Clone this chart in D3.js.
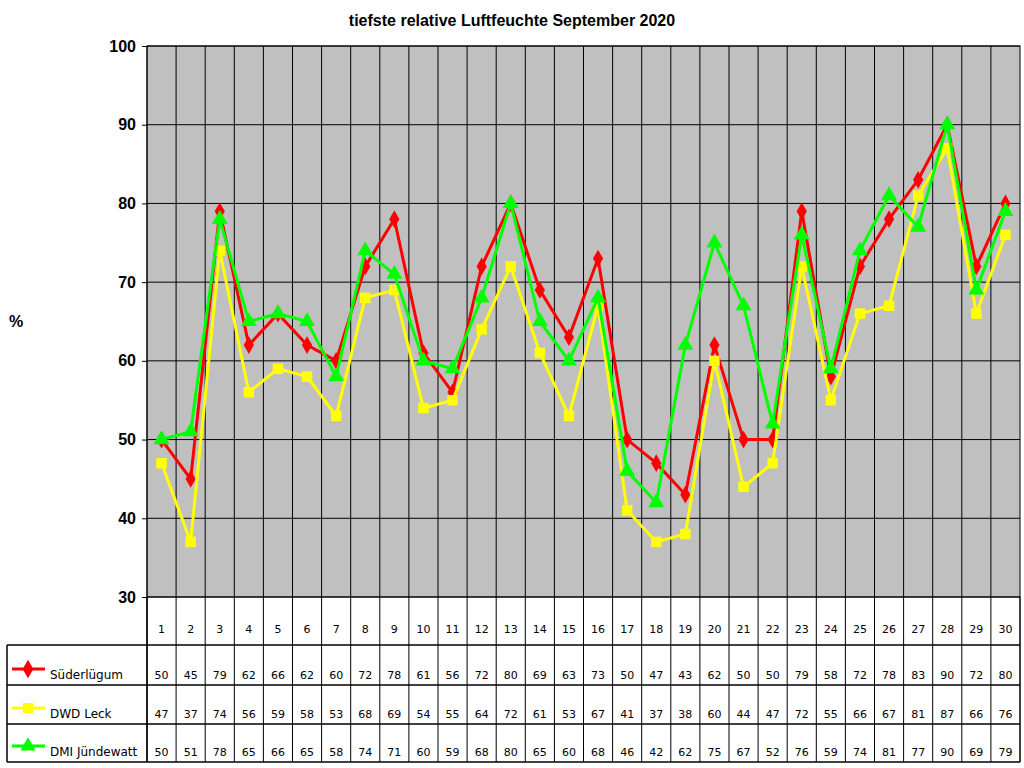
<!DOCTYPE html>
<html><head><meta charset="utf-8">
<script src="https://cdn.jsdelivr.net/npm/d3@7"></script>
<style>body{margin:0;background:#fff}svg{font-family:Arial,"Liberation Sans",sans-serif}</style>
</head><body><div id="chart"></div>
<script>
const days = d3.range(1, 31);
const suederluegum = [50,45,79,62,66,62,60,72,78,61,56,72,80,69,63,73,50,47,43,62,50,50,79,58,72,78,83,90,72,80];
const dwdLeck = [47,37,74,56,59,58,53,68,69,54,55,64,72,61,53,67,41,37,38,60,44,47,72,55,66,67,81,87,66,76];
const dmiJuendewatt = [50,51,78,65,66,65,58,74,71,60,59,68,80,65,60,68,46,42,62,75,67,52,76,59,74,81,77,90,69,79];
const yTicks = [30,40,50,60,70,80,90,100];
const series = [
  {name: "Süderlügum", values: suederluegum, color: "#ff0000", shape: d3.symbolDiamond},
  {name: "DWD Leck", values: dwdLeck, color: "#ffff00", shape: d3.symbolSquare},
  {name: "DMI Jündewatt", values: dmiJuendewatt, color: "#00ff00", shape: d3.symbolTriangle}
];

const W = 1024, H = 768, L = 147, R = 1020, T = 46, B = 597;
const svg = d3.select("#chart").append("svg").attr("width", W).attr("height", H);
const x = d3.scaleBand().domain(days).range([L, R]);
const y = d3.scaleLinear().domain([30, 100]).range([B, T]);

svg.append("text").attr("x", 512).attr("y", 26).attr("text-anchor", "middle")
  .attr("font-size", 16).attr("font-weight", "bold").text("tiefste relative Luftfeuchte September 2020");

svg.append("rect").attr("x", L).attr("y", T).attr("width", R - L).attr("height", B - T).attr("fill", "#c0c0c0");
svg.selectAll(".hg").data(yTicks).enter().append("line")
  .attr("x1", L).attr("x2", R).attr("y1", d => y(d)).attr("y2", d => y(d)).attr("stroke", "#000");
svg.selectAll(".vg").data(days).enter().append("line")
  .attr("x1", d => x(d)).attr("x2", d => x(d)).attr("y1", T).attr("y2", B).attr("stroke", "#000");
svg.append("rect").attr("x", L).attr("y", T).attr("width", R - L).attr("height", B - T)
  .attr("fill", "none").attr("stroke", "#000");

const yAxis = svg.append("g").attr("transform", `translate(${L},0)`)
  .call(d3.axisLeft(y).tickValues(yTicks).tickSize(5).tickPadding(6));
yAxis.select(".domain").remove();
yAxis.selectAll("text").attr("font-size", 16).attr("font-weight", "bold").attr("fill", "#000")
  .attr("font-family", "Arial, 'Liberation Sans', sans-serif");
svg.append("text").attr("x", 16).attr("y", 327).attr("text-anchor", "middle")
  .attr("font-size", 16).attr("font-weight", "bold").text("%");

const cx = d => x(d) + x.bandwidth() / 2;
const line = d3.line().x((d, i) => cx(days[i])).y(d => y(d));
series.forEach(s => {
  svg.append("path").datum(s.values).attr("d", line).attr("fill", "none")
    .attr("stroke", s.color).attr("stroke-width", 3);
  svg.selectAll(null).data(s.values).enter().append("path")
    .attr("d", d3.symbol().type(s.shape).size(s.shape === d3.symbolDiamond ? 90 : 110))
    .attr("transform", (d, i) => `translate(${cx(days[i])},${y(d)})`)
    .attr("fill", s.color);
});

// data table
const rowY = [B, 645, 685, 724, 762];
const tbl = svg.append("g").attr("stroke", "#000").attr("stroke-width", 1.5);
tbl.append("line").attr("x1", L).attr("x2", L).attr("y1", B).attr("y2", rowY[4]);
tbl.append("line").attr("x1", R).attr("x2", R).attr("y1", B).attr("y2", rowY[4]);
tbl.append("line").attr("x1", 7).attr("x2", 7).attr("y1", rowY[1]).attr("y2", rowY[4]);
days.forEach(d => tbl.append("line").attr("x1", x(d)).attr("x2", x(d)).attr("y1", B).attr("y2", rowY[4]).attr("stroke-width", 1));
rowY.slice(1).forEach(v => tbl.append("line").attr("x1", 7).attr("x2", R).attr("y1", v).attr("y2", v));

svg.selectAll(".hd").data(days).enter().append("text")
  .attr("x", d => cx(d)).attr("y", 633).attr("text-anchor", "middle")
  .attr("font-family", "'DejaVu Sans', sans-serif").attr("font-size", 11).text(d => d);

series.forEach((s, k) => {
  const base = rowY[k + 2] - 6;
  svg.selectAll(null).data(s.values).enter().append("text")
    .attr("x", (d, i) => cx(days[i])).attr("y", base).attr("text-anchor", "middle")
    .attr("font-family", "'DejaVu Sans', sans-serif").attr("font-size", 11).text(d => d);
  const ly = base - 10;
  svg.append("line").attr("x1", 12).attr("x2", 45).attr("y1", ly).attr("y2", ly)
    .attr("stroke", s.color).attr("stroke-width", 3);
  svg.append("path").attr("d", d3.symbol().type(s.shape).size(100)())
    .attr("transform", `translate(28,${ly})`).attr("fill", s.color);
  svg.append("text").attr("x", 50).attr("y", base).attr("font-family", "'DejaVu Sans', sans-serif")
    .attr("font-size", 12).text(s.name);
});
</script></body></html>
